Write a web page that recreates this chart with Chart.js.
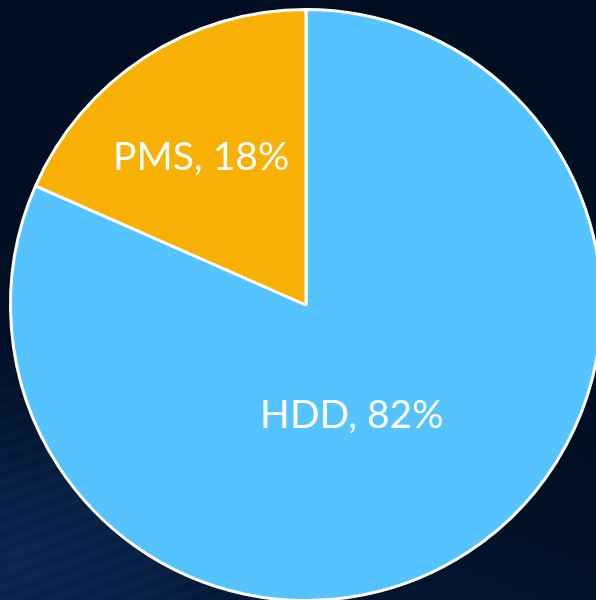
<!DOCTYPE html>
<html>
<head>
<meta charset="utf-8">
<script src="https://cdn.jsdelivr.net/npm/chart.js@4/dist/chart.umd.min.js"></script>
<style>
  html, body { margin: 0; padding: 0; width: 596px; height: 600px; overflow: hidden; }
  body {
    position: relative;
    background:
      radial-gradient(ellipse 300px 200px at 20px 560px, rgba(15,55,115,0.40), rgba(15,55,115,0) 75%),
      linear-gradient(200deg, #010d20 0%, #020f24 60%, #041a3a 100%);
  }
  #streaks {
    position: absolute; left: 0; top: 0; width: 596px; height: 600px;
    background: repeating-linear-gradient(160deg, rgba(70,120,180,0) 0px, rgba(70,120,180,0.08) 6px, rgba(70,120,180,0) 14px);
    -webkit-mask-image: radial-gradient(ellipse 380px 260px at 60px 560px, #000 30%, transparent 100%);
    mask-image: radial-gradient(ellipse 380px 260px at 60px 560px, #000 30%, transparent 100%);
  }
  #wrap { position: absolute; left: 0; top: 0; width: 612px; height: 612px; }
</style>
</head>
<body>
<div id="streaks"></div>
<div id="wrap"><canvas id="c" width="612" height="612"></canvas></div>
<script>
const categories = ["HDD", "PMS"];
const shares = [81.6, 18.4];
const sliceColors = ["#55C3FF", "#F9B005"];
// label placement as fraction of radius from centre (dx, dy)
const labelOffsets = [[0.155, 0.375], [-0.355, -0.50]];

const labelPlugin = {
  id: 'sliceLabels',
  afterDatasetsDraw(chart) {
    const ctx = chart.ctx;
    const meta = chart.getDatasetMeta(0);
    ctx.save();
    ctx.font = '39px Lato, "Open Sans", sans-serif';
    ctx.fillStyle = '#ffffff';
    ctx.textAlign = 'center';
    ctx.textBaseline = 'middle';
    meta.data.forEach((arc, i) => {
      const r = arc.outerRadius;
      const x = arc.x + labelOffsets[i][0] * r;
      const y = arc.y + labelOffsets[i][1] * r;
      ctx.fillText(categories[i] + ', ' + Math.round(shares[i]) + '%', x, y);
    });
    ctx.restore();
  }
};

new Chart(document.getElementById('c'), {
  type: 'pie',
  data: {
    labels: categories,
    datasets: [{
      data: shares,
      backgroundColor: sliceColors,
      borderColor: '#ffffff',
      borderWidth: 3
    }]
  },
  options: {
    responsive: false,
    animation: false,
    layout: { padding: { left: 9, top: 8, right: 9, bottom: 10 } },
    plugins: { legend: { display: false }, tooltip: { enabled: false } }
  },
  plugins: [labelPlugin]
});
</script>
</body>
</html>
